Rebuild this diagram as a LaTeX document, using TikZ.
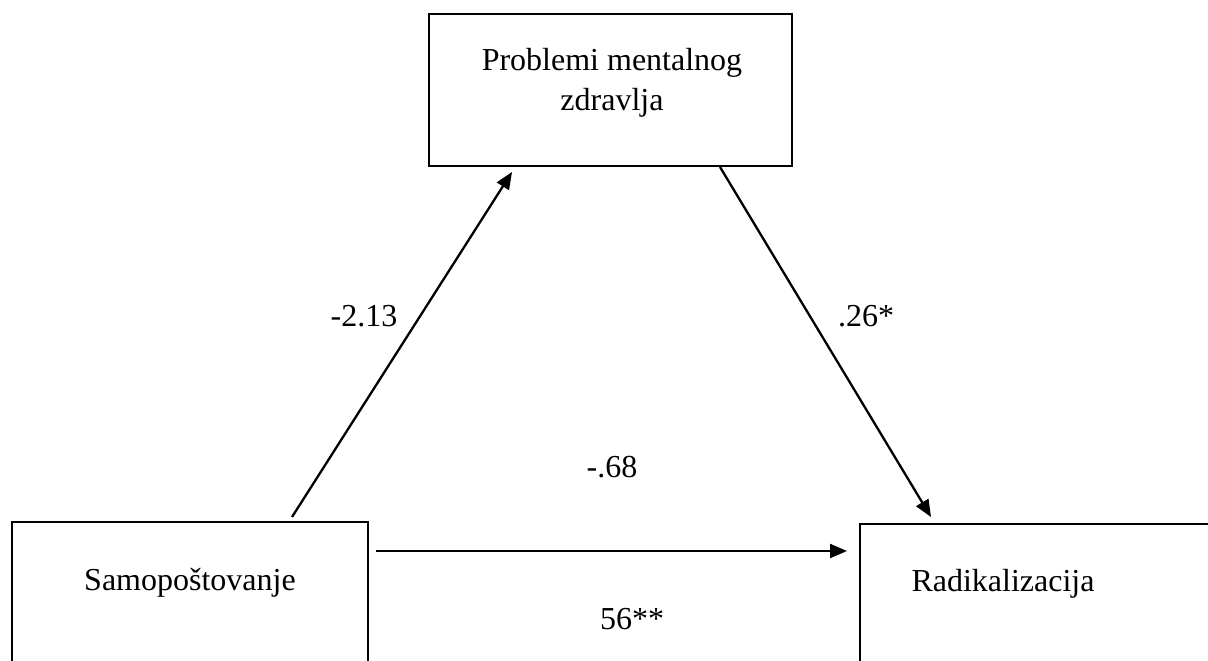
\documentclass[tikz,border=0pt]{standalone}
\usepackage{fontspec}
\setmainfont{Liberation Serif}
\usetikzlibrary{arrows.meta}
\begin{document}
\begin{tikzpicture}[x=1pt,y=1pt,
  box/.style={draw=black,line width=2.4pt,rectangle,inner sep=0pt},
  txt/.style={font=\fontsize{32}{40}\selectfont,inner sep=0pt,align=center},
  conn/.style={line width=2.3pt,-{Triangle[length=17pt,width=14pt]}}]
\useasboundingbox (0,0) rectangle (1208,-661);
\clip (0,0) rectangle (1208,-661);
\node[box,minimum width=363pt,minimum height=152pt] (top) at (610.5,-90) {};
\node[box,minimum width=356pt,minimum height=240pt] (left) at (190,-642) {};
\node[box,minimum width=400pt,minimum height=240pt] (right) at (1060,-644) {};
\node[txt] (toptxt) at (612,-83) {Problemi mentalnog\\zdravlja};
\node[txt] (lefttxt) at (190,-583) {Samopoštovanje};
\node[txt] (righttxt) at (1003,-584) {Radikalizacija};
\coordinate (a1s) at (292,-517);
\coordinate (a1e) at (512,-172);
\coordinate (a2s) at (720,-167);
\coordinate (a2e) at (931,-517);
\coordinate (a3s) at (376,-551);
\coordinate (a3e) at (847,-551);
\draw[conn] (a1s) -- (a1e);
\draw[conn] (a2s) -- (a2e);
\draw[conn] (a3s) -- (a3e);
\node[txt] (l1) at (364,-316) {-2.13};
\node[txt] (l2) at (866,-316) {.26*};
\node[txt] (l3) at (612,-467) {-.68};
\node[txt] (l4) at (632,-619) {56**};
\end{tikzpicture}
\end{document}
